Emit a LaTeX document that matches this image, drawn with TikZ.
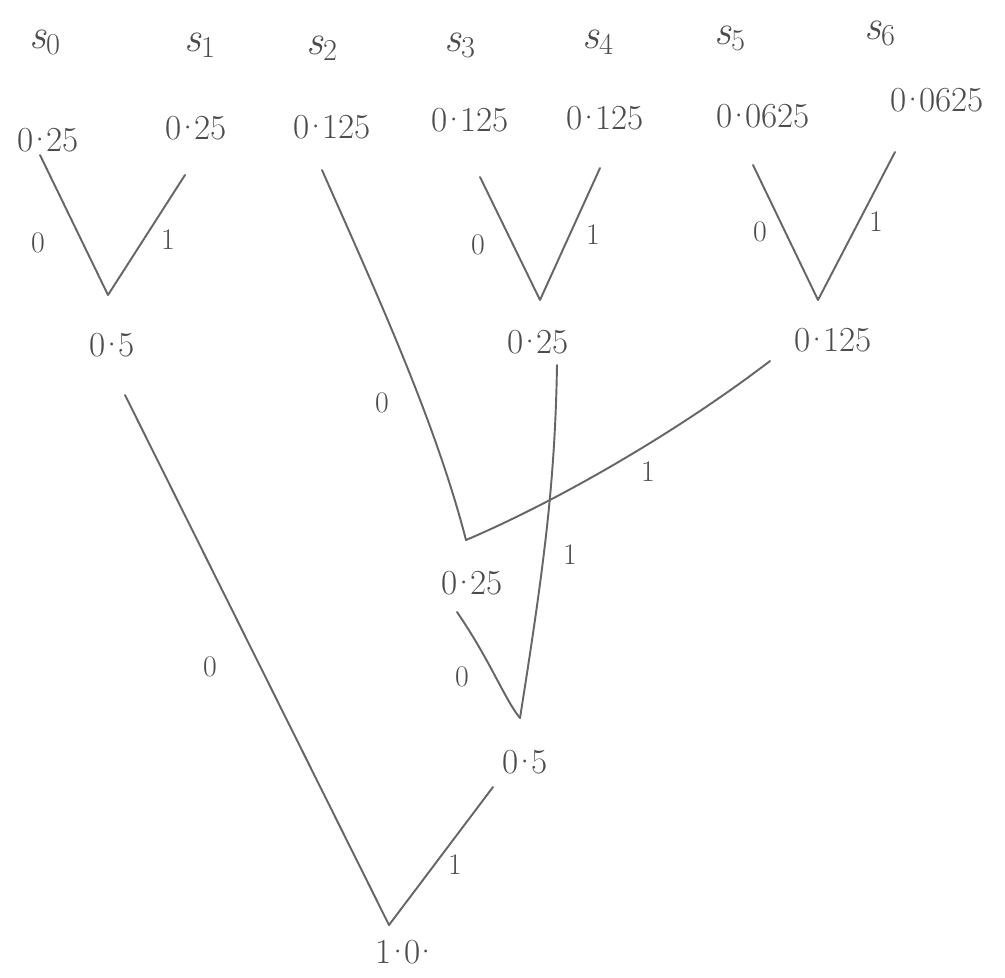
\documentclass[tikz,border=0pt]{standalone}
\usepackage{fontspec}
\newcommand{\pd}{\kern-0.18em·\kern-0.18em}
\begin{document}
\begin{tikzpicture}[x=0.2mm,y=-0.2mm,
  edge/.style={draw=black!60,line width=1.1pt,line cap=round,line join=round},
  sym/.style={text=black!70,font=\fontsize{24}{28}\selectfont\itshape},
  prob/.style={text=black!70,font=\fontsize{20}{24}\selectfont},
  bit/.style={text=black!70,font=\fontsize{17}{20}\selectfont}]
\useasboundingbox (0,0) rectangle (1005,977);
% symbol names
\node[sym] (s0) at (45,42) {s$_0$};
\node[sym] (s1) at (200,45) {s$_1$};
\node[sym] (s2) at (322,48) {s$_2$};
\node[sym] (s3) at (460,45) {s$_3$};
\node[sym] (s4) at (598,42) {s$_4$};
\node[sym] (s5) at (730,38) {s$_5$};
\node[sym] (s6) at (880,33) {s$_6$};
% probabilities
\node[prob] (p0) at (48,140) {0\pd25};
\node[prob] (p1) at (196,128) {0\pd25};
\node[prob] (p2) at (332,127) {0\pd125};
\node[prob] (p3) at (470,120) {0\pd125};
\node[prob] (p4) at (605,118) {0\pd125};
\node[prob] (p5) at (763,116) {0\pd0625};
\node[prob] (p6) at (937,100) {0\pd0625};
% internal probabilities
\node[prob] (n01) at (112,345) {0\pd5};
\node[prob] (n34) at (538,342) {0\pd25};
\node[prob] (n56) at (833,340) {0\pd125};
\node[prob] (n256) at (472,583) {0\pd25};
\node[prob] (nr) at (525,762) {0\pd5};
\node[prob] (root) at (404,952) {1\pd0\pd};
% coordinates
\coordinate (a0) at (40,155);
\coordinate (a1) at (185,175);
\coordinate (j01) at (108,295);
\coordinate (a2) at (322,170);
\coordinate (a3) at (480,177);
\coordinate (a4) at (600,168);
\coordinate (j34) at (540,300);
\coordinate (a5) at (753,165);
\coordinate (a6) at (895,152);
\coordinate (j56) at (818,300);
\coordinate (j256) at (466,540);
\coordinate (t56) at (770,361);
\coordinate (t34) at (557,365);
\coordinate (t256) at (457,612);
\coordinate (j2) at (520,718);
\coordinate (t2) at (493,787);
\coordinate (t01) at (125,395);
\coordinate (jr) at (389,925);
% edges
\draw[edge] (a0) -- (j01) -- (a1);
\draw[edge] (a3) -- (j34) -- (a4);
\draw[edge] (a5) -- (j56) -- (a6);
\draw[edge] (a2) .. controls (375,290) and (435,420) .. (j256);
\draw[edge] (j256) .. controls (560,500) and (680,430) .. (t56);
\draw[edge] (t34) .. controls (555,480) and (545,560) .. (j2);
\draw[edge] (t256) .. controls (490,660) and (505,700) .. (j2);
\draw[edge] (t2) -- (jr);
\draw[edge] (t01) -- (jr);
% bit labels
\node[bit] at (38,243) {0};
\node[bit] at (168,240) {1};
\node[bit] at (478,245) {0};
\node[bit] at (593,235) {1};
\node[bit] at (760,232) {0};
\node[bit] at (876,222) {1};
\node[bit] at (382,403) {0};
\node[bit] at (648,472) {1};
\node[bit] at (570,555) {1};
\node[bit] at (462,677) {0};
\node[bit] at (455,865) {1};
\node[bit] at (210,667) {0};
\end{tikzpicture}
\end{document}
